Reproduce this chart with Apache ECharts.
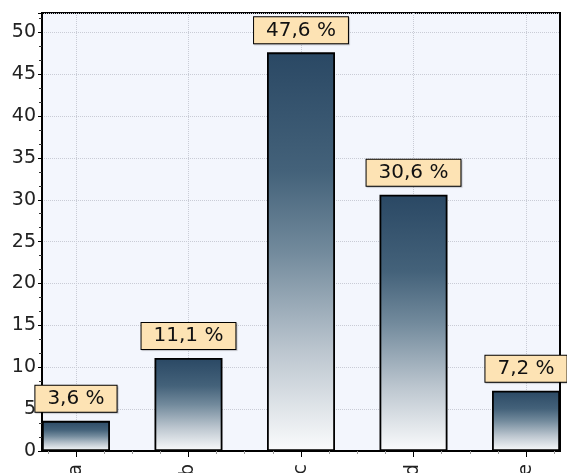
<!DOCTYPE html>
<html>
<head>
<meta charset="utf-8">
<script src="https://cdn.jsdelivr.net/npm/echarts@6/dist/echarts.min.js"></script>
<style>html,body{margin:0;padding:0;background:#fff;}#c{width:567px;height:473px;}</style>
</head>
<body>
<div id="c"></div>
<script>
var categories = ['a', 'b', 'c', 'd', 'e'];
var values = [3.6, 11.1, 47.6, 30.6, 7.2];
var yTicks = [0, 5, 10, 15, 20, 25, 30, 35, 40, 45, 50];

var catIdx = categories.map(function (c, i) { return i; });
var minorX = [];
for (var i = -1; i <= 17; i++) { var v = i / 4; if (v % 1 !== 0) minorX.push(v); }
var barData = values.map(function (v, i) { return [i, v]; });

var chart = echarts.init(document.getElementById('c'), null, { renderer: 'canvas' });
chart.setOption({
  animation: false,
  backgroundColor: '#ffffff',
  grid: {
    left: 42, right: 7, top: 13, bottom: 22,
    outerBoundsMode: 'none', containLabel: false,
    show: true, backgroundColor: '#f3f6fd', borderColor: '#000', borderWidth: 2
  },
  xAxis: [{
    type: 'value', min: -0.302, max: 4.302, position: 'bottom',
    axisLine: { show: true, onZero: false, lineStyle: { color: '#000', width: 2 } },
    axisTick: { show: true, customValues: catIdx, length: 6, lineStyle: { color: '#000', width: 1 } },
    axisLabel: {
      customValues: catIdx, rotate: 90, margin: 13,
      fontFamily: 'DejaVu Sans', fontSize: 19, color: '#222',
      formatter: function (v) { return categories[Math.round(v)]; }
    },
    splitLine: { show: true, lineStyle: { color: '#c9ccd6', type: 'dotted', width: 1 } }
  }, {
    type: 'value', min: -0.302, max: 4.302, position: 'bottom',
    axisLine: { show: false, onZero: false },
    axisTick: { show: true, customValues: minorX, length: 3, lineStyle: { color: '#999', width: 1 } },
    axisLabel: { show: false },
    splitLine: { show: false }
  }],
  yAxis: {
    type: 'value', min: 0, max: 52.3, interval: 5,
    axisLine: { show: true, onZero: false, lineStyle: { color: '#000', width: 2 } },
    axisTick: { show: true, length: 4, lineStyle: { color: '#000' } },
    minorTick: { show: true, splitNumber: 3, length: 3, lineStyle: { color: '#333' } },
    axisLabel: {
      margin: 6, fontFamily: 'DejaVu Sans', fontSize: 19, color: '#222',
      customValues: yTicks,
      formatter: function (v) { return String(v); }
    },
    splitLine: { show: true, lineStyle: { color: '#c9ccd6', type: 'dotted', width: 1 } }
  },
  series: [{
    type: 'bar',
    xAxisIndex: 0,
    data: barData,
    barWidth: 68,
    z: 3,
    itemStyle: {
      borderColor: '#000', borderWidth: 1.8,
      color: new echarts.graphic.LinearGradient(0, 0, 0, 1, [
        { offset: 0, color: '#2a4864' },
        { offset: 0.3, color: '#44627a' },
        { offset: 0.5, color: '#728a9c' },
        { offset: 0.75, color: '#bcc6cf' },
        { offset: 1, color: '#fafbfc' }
      ])
    },
    label: {
      show: true, position: 'top', distance: 9,
      fontFamily: 'DejaVu Sans', fontSize: 20, lineHeight: 20, color: '#111',
      backgroundColor: '#fde3b4', borderColor: '#000', borderWidth: 1,
      padding: [3, 12, 3, 12],
      shadowColor: 'rgba(0,0,0,0.2)', shadowOffsetX: 1, shadowOffsetY: 1, shadowBlur: 1,
      formatter: function (p) { return p.value[1].toFixed(1).replace('.', ',') + ' %'; }
    }
  }]
});
</script>
</body>
</html>
